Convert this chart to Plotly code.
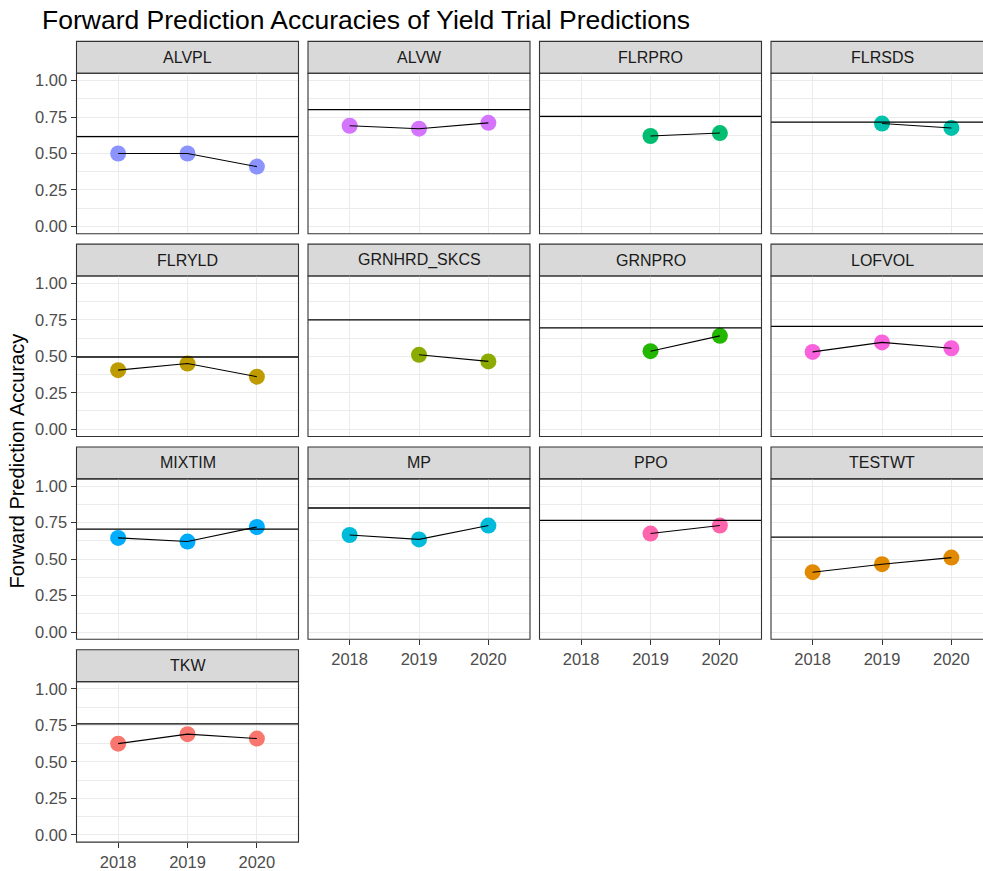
import plotly.graph_objects as go

# ---- data -----------------------------------------------------------------
traits = ["ALVPL", "ALVW", "FLRPRO", "FLRSDS", "FLRYLD", "GRNHRD_SKCS", "GRNPRO",
          "LOFVOL", "MIXTIM", "MP", "PPO", "TESTWT", "TKW"]
years = [2018, 2019, 2020]
year_labels = ["2018", "2019", "2020"]

# forward prediction accuracy per trait for each trial year (None = not predicted)
acc_2018 = [0.50, 0.69, None, None, 0.405, None, None, 0.53, 0.645, 0.665, None, 0.41, 0.625]
acc_2019 = [0.50, 0.67, 0.62, 0.705, 0.45, 0.51, 0.535, 0.595, 0.62, 0.635, 0.675, 0.465, 0.69]
acc_2020 = [0.41, 0.71, 0.64, 0.675, 0.36, 0.465, 0.64, 0.555, 0.72, 0.73, 0.73, 0.51, 0.66]

# cross-validation reference accuracy drawn as a horizontal line per trait
baseline = [0.615, 0.80, 0.755, 0.715, 0.495, 0.75, 0.695, 0.705, 0.705, 0.85, 0.765, 0.65, 0.76]

trait_colors = ["#8B93FF", "#D575FE", "#00BE70", "#00C1AB", "#BE9C00", "#8CAB00", "#24B700",
                "#F962DD", "#00ACFC", "#00BBDA", "#FF65AC", "#E18A00", "#F8766D"]

y_ticks = [0.0, 0.25, 0.5, 0.75, 1.0]
y_tick_labels = ["0.00", "0.25", "0.50", "0.75", "1.00"]
y_minor = [0.125, 0.375, 0.625, 0.875]

# ---- layout geometry (pixels) ---------------------------------------------
W, H = 983, 871
COL_LEFT = [76.5, 308, 539.5, 771]
ROW_TOP = [39.5, 243, 446.5, 650]
PANEL_W = 222
STRIP_H = 32
PANEL_H = 161
X_LO, X_HI = 2017.4, 2020.6
Y_LO, Y_HI = -0.05, 1.05

GRID = "#EBEBEB"
DARK = "#333333"
FONT = "Liberation Sans, Arial, sans-serif"


def px_x(p):
    return p / W


def px_y(p):
    return 1 - p / H


fig = go.Figure()
shapes = []
annotations = []
layout_axes = {}

for i, trait in enumerate(traits):
    r, c = divmod(i, 4)
    n = i + 1
    sfx = "" if n == 1 else str(n)
    left = COL_LEFT[c]
    right = min(left + PANEL_W, W)
    x_hi = X_LO + (right - left) * (X_HI - X_LO) / PANEL_W
    strip_top = ROW_TOP[r]
    top = strip_top + STRIP_H
    bottom = top + PANEL_H
    show_x = i + 4 >= len(traits)
    show_y = c == 0

    layout_axes["xaxis" + sfx] = dict(
        domain=[px_x(left), px_x(right)], range=[X_LO, x_hi], anchor="y" + sfx,
        tickmode="array", tickvals=years, ticktext=year_labels,
        showticklabels=show_x, ticks="outside" if show_x else "",
        ticklen=5, tickwidth=1.1, tickcolor=DARK,
        tickfont=dict(family=FONT, size=16.5, color="#4D4D4D"),
        showgrid=True, gridcolor=GRID, gridwidth=1.1,
        zeroline=False, showline=False, fixedrange=True,
    )
    layout_axes["yaxis" + sfx] = dict(
        domain=[px_y(bottom), px_y(top)], range=[Y_LO, Y_HI], anchor="x" + sfx,
        tickmode="array", tickvals=y_ticks, ticktext=y_tick_labels,
        showticklabels=show_y, ticks="outside" if show_y else "",
        ticklen=5, tickwidth=1.1, tickcolor=DARK,
        tickfont=dict(family=FONT, size=16.5, color="#4D4D4D"),
        showgrid=True, gridcolor=GRID, gridwidth=1.1,
        minor=dict(tickmode="array", tickvals=y_minor, showgrid=True,
                   gridcolor=GRID, gridwidth=0.6),
        zeroline=False, showline=False, fixedrange=True,
    )

    vals = [acc_2018[i], acc_2019[i], acc_2020[i]]
    xs = [yr for yr, v in zip(years, vals) if v is not None]
    ys = [v for v in vals if v is not None]

    fig.add_trace(go.Scatter(
        x=xs, y=ys, mode="markers", xaxis="x" + sfx, yaxis="y" + sfx,
        marker=dict(size=16, color=trait_colors[i], line=dict(width=0)),
        showlegend=False, hoverinfo="skip",
    ))
    fig.add_trace(go.Scatter(
        x=xs, y=ys, mode="lines", xaxis="x" + sfx, yaxis="y" + sfx,
        line=dict(color="black", width=1.1),
        showlegend=False, hoverinfo="skip",
    ))

    # reference accuracy line across the panel
    shapes.append(dict(
        type="line", xref=f"x{sfx} domain", x0=0, x1=1,
        yref="y" + sfx, y0=baseline[i], y1=baseline[i],
        line=dict(color="black", width=1.3), layer="above",
    ))
    # strip header
    shapes.append(dict(
        type="rect", xref="paper", yref="paper",
        x0=px_x(left), x1=px_x(left + PANEL_W), y0=px_y(top), y1=px_y(strip_top),
        fillcolor="#D9D9D9", line=dict(color=DARK, width=1.1), layer="below",
    ))
    annotations.append(dict(
        text=trait, xref="paper", yref="paper",
        x=px_x(left + PANEL_W / 2), y=px_y(strip_top + STRIP_H / 2),
        xanchor="center", yanchor="middle", showarrow=False,
        font=dict(family=FONT, size=16, color="#1A1A1A"),
    ))
    # panel border
    shapes.append(dict(
        type="rect", xref="paper", yref="paper",
        x0=px_x(left), x1=px_x(left + PANEL_W), y0=px_y(bottom), y1=px_y(top),
        line=dict(color=DARK, width=1.1), fillcolor="rgba(0,0,0,0)", layer="above",
    ))

annotations.append(dict(
    text="Forward Prediction Accuracies of Yield Trial Predictions",
    xref="paper", yref="paper", x=px_x(40), y=px_y(18),
    xanchor="left", yanchor="middle", showarrow=False,
    font=dict(family=FONT, size=26.5, color="black"),
))
annotations.append(dict(
    text="Forward Prediction Accuracy",
    xref="paper", yref="paper", x=px_x(17), y=px_y(461),
    xanchor="center", yanchor="middle", textangle=-90, showarrow=False,
    font=dict(family=FONT, size=20, color="black"),
))

fig.update_layout(
    width=W, height=H,
    margin=dict(l=0, r=0, t=0, b=0),
    paper_bgcolor="white", plot_bgcolor="white",
    shapes=shapes, annotations=annotations,
    showlegend=False,
    **layout_axes,
)

fig.write_html("out.html")
